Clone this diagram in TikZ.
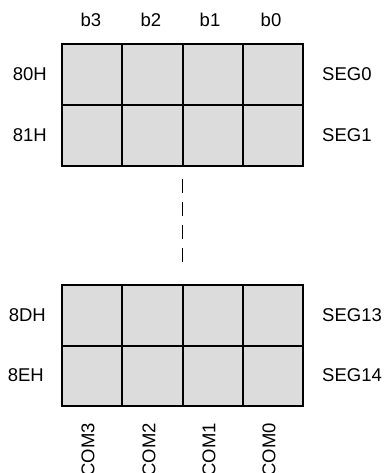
\documentclass[tikz,border=0pt]{standalone}
\usepackage{fontspec}
\setmainfont{Liberation Sans}
\usepackage{xcolor}
\usepackage{tikz}
\usetikzlibrary{positioning}
\definecolor{cellgray}{RGB}{220,220,220}

\begin{document}
\begin{tikzpicture}[x=1pt, y=-1pt, every node/.style={font=\fontsize{18.5}{22}\selectfont, inner sep=0pt}]
  \useasboundingbox (0,0) rectangle (385,473);
  % upper block
  \filldraw[fill=cellgray, line width=2pt] (62,44) rectangle (303,166);
  \draw[line width=2pt] (62,105) -- (303,105);
  \draw[line width=2pt] (122.25,44) -- (122.25,166);
  \draw[line width=2pt] (182.5,44) -- (182.5,166);
  \draw[line width=2pt] (242.75,44) -- (242.75,166);
  % lower block
  \filldraw[fill=cellgray, line width=2pt] (62,285) rectangle (303,406);
  \draw[line width=2pt] (62,345.5) -- (303,345.5);
  \draw[line width=2pt] (122.25,285) -- (122.25,406);
  \draw[line width=2pt] (182.5,285) -- (182.5,406);
  \draw[line width=2pt] (242.75,285) -- (242.75,406);
  % gap between the blocks
  \draw[line width=1.5pt, dash pattern=on 14pt off 9pt] (182.5,179) -- (182.5,263);
  % bit labels
  \node (b3) at (91,20) {b3};
  \node (b2) at (151,20) {b2};
  \node (b1) at (210,20) {b1};
  \node (b0) at (271,20) {b0};
  % addresses
  \node[left] (a80) at (47,74.5) {80H};
  \node[left] (a81) at (47,135.5) {81H};
  \node[left] (a8d) at (46,315) {8DH};
  \node[left] (a8e) at (44,375.5) {8EH};
  % segments
  \node[right] (seg0) at (322,74.5) {SEG0};
  \node[right] (seg1) at (322,135.5) {SEG1};
  \node[right] (seg13) at (322,315) {SEG13};
  \node[right] (seg14) at (322,375.5) {SEG14};
  % commons
  \node[rotate=90, anchor=east] (com3) at (88,423) {COM3};
  \node[rotate=90, anchor=east] (com2) at (149,423) {COM2};
  \node[rotate=90, anchor=east] (com1) at (209,423) {COM1};
  \node[rotate=90, anchor=east] (com0) at (269,423) {COM0};
\end{tikzpicture}
\end{document}
